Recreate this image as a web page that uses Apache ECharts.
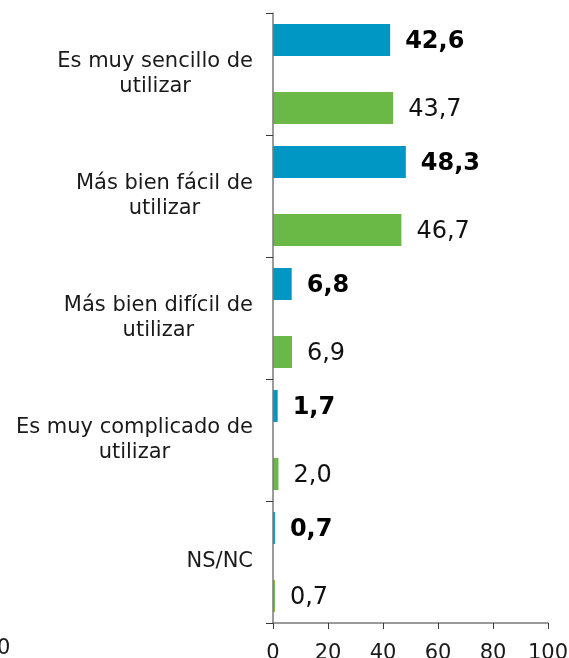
<!DOCTYPE html>
<html>
<head>
<meta charset="utf-8">
<script src="https://cdn.jsdelivr.net/npm/echarts@6/dist/echarts.min.js"></script>
<style>
  html, body { margin: 0; padding: 0; background: #fff; }
  #chart { width: 569px; height: 658px; }
</style>
</head>
<body>
<div id="chart"></div>
<script>
// Answer categories (top to bottom)
const categories = [
  'Es muy sencillo de\nutilizar',
  'Más bien fácil de\nutilizar',
  'Más bien difícil de\nutilizar',
  'Es muy complicado de\nutilizar',
  'NS/NC'
];
// Percentages for each wave
const valuesBlue = [42.6, 48.3, 6.8, 1.7, 0.7];
const valuesGreen = [43.7, 46.7, 6.9, 2.0, 0.7];
// Value axis
const xMin = 0;
const xMax = 100;
const xStep = 20;

const FONT = 'DejaVu Sans';
const fmt = p => p.value.toFixed(1).replace('.', ',');

const chart = echarts.init(document.getElementById('chart'), null, { renderer: 'canvas' });

chart.setOption({
  animation: false,
  backgroundColor: '#ffffff',
  grid: { left: 273, right: 21, top: 13, bottom: 35, containLabel: false, outerBoundsMode: 'none' },
  xAxis: {
    type: 'value',
    min: xMin,
    max: xMax,
    interval: xStep,
    axisLine: { show: true, lineStyle: { color: '#7a7a7a', width: 1.5 } },
    axisTick: { show: true, length: 6, lineStyle: { color: '#3a3a3a', width: 1 } },
    axisLabel: { color: '#1a1a1a', fontFamily: FONT, fontSize: 21, margin: 20 },
    splitLine: { show: false }
  },
  yAxis: {
    type: 'category',
    data: categories,
    inverse: true,
    z: 3,
    axisLine: { show: true, lineStyle: { color: '#7a7a7a', width: 1.5 } },
    axisTick: { show: true, length: 7, lineStyle: { color: '#3a3a3a', width: 1 } },
    axisLabel: {
      margin: 20,
      align: 'right',
      formatter: v => v.split('\n').map(s => '{c|' + s + '}').join('\n'),
      rich: {
        c: { align: 'center', color: '#1a1a1a', fontFamily: FONT, fontSize: 21, lineHeight: 25 }
      }
    }
  },
  graphic: [{
    type: 'text',
    left: -3,
    top: 638,
    style: { text: '0', fill: '#1a1a1a', font: '21px "DejaVu Sans"' }
  }],
  series: [
    {
      type: 'bar',
      data: valuesBlue,
      barWidth: 32,
      barGap: '112.5%',
      itemStyle: { color: '#0097c4' },
      label: {
        show: true,
        position: 'right',
        distance: 15,
        offset: [0, 2],
        formatter: fmt,
        color: '#000',
        fontFamily: FONT,
        fontSize: 24,
        fontWeight: 'bold'
      }
    },
    {
      type: 'bar',
      data: valuesGreen,
      barWidth: 32,
      barGap: '112.5%',
      itemStyle: { color: '#6ab846' },
      label: {
        show: true,
        position: 'right',
        distance: 15,
        offset: [0, 2],
        formatter: fmt,
        color: '#111',
        fontFamily: FONT,
        fontSize: 24
      }
    }
  ]
});
</script>
</body>
</html>
